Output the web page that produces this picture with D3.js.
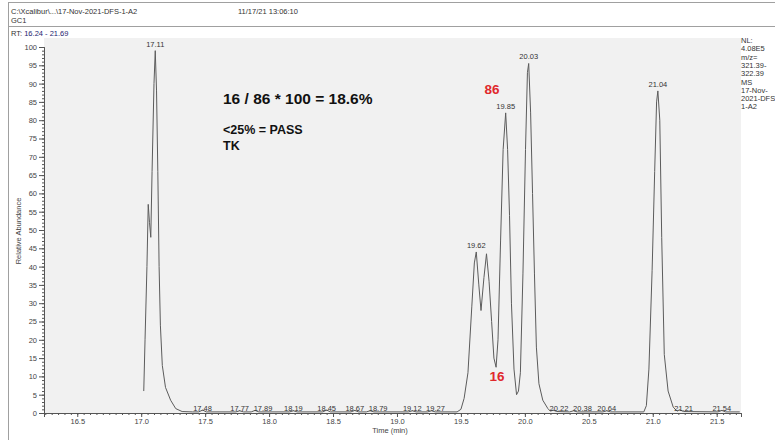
<!DOCTYPE html>
<html>
<head>
<meta charset="utf-8">
<script src="https://cdn.jsdelivr.net/npm/d3@7/dist/d3.min.js"></script>
<style>
    body { margin: 0; background: #ffffff; }
    text { font-family: "Liberation Sans", Arial, sans-serif; }
</style>
</head>
<body>
<div id="canvas"></div>
<script>
// Tiempos de retencion (min) del cromatograma
const rtTimes = [
    17.02, 17.03, 17.045, 17.055, 17.065, 17.075, 17.085, 17.10, 17.11, 17.12,
    17.13, 17.14, 17.15, 17.165, 17.19, 17.23, 17.27, 17.32, 17.40,
    17.45, 17.48, 17.51, 17.74, 17.77, 17.80, 17.86, 17.89, 17.92,
    18.16, 18.19, 18.22, 18.42, 18.45, 18.48, 18.64, 18.67, 18.70,
    18.76, 18.79, 18.82, 19.09, 19.12, 19.15, 19.24, 19.27, 19.30,
    19.47, 19.50, 19.525, 19.555, 19.585, 19.605, 19.62, 19.64, 19.657, 19.68,
    19.70, 19.72, 19.74, 19.758, 19.775, 19.79, 19.81, 19.83, 19.85, 19.865,
    19.88, 19.895, 19.915, 19.935, 19.95, 19.965, 19.985, 20.005, 20.02, 20.03,
    20.045, 20.06, 20.075, 20.09, 20.11, 20.14, 20.18, 20.20, 20.22, 20.25,
    20.35, 20.38, 20.41, 20.61, 20.64, 20.67, 20.93, 20.95, 20.97, 20.995,
    21.015, 21.03, 21.04, 21.055, 21.07, 21.09, 21.12, 21.16, 21.19, 21.21,
    21.24, 21.51, 21.54, 21.57, 21.68
];

// Abundancia relativa (%) para cada tiempo
const abundance = [
    6, 20, 40, 57, 52, 48, 66, 90, 99, 88,
    66, 40, 24, 13, 7, 3.5, 1.2, 0.4, 0.3,
    0.3, 0.8, 0.3, 0.3, 0.6, 0.3, 0.3, 0.7, 0.3,
    0.3, 0.6, 0.3, 0.3, 0.8, 0.3, 0.3, 0.7, 0.3,
    0.3, 0.6, 0.3, 0.3, 0.6, 0.3, 0.3, 0.6, 0.3,
    0.3, 1, 4, 11, 29, 41, 44, 35, 28, 37,
    43.5, 36, 25, 15, 12.5, 20, 47, 72, 82, 72,
    54, 30, 12, 5, 6, 11, 38, 72, 93, 95.5,
    82, 60, 38, 18, 8, 3.5, 1.2, 0.5, 0.8, 0.4,
    0.3, 0.6, 0.3, 0.3, 0.6, 0.3, 0.3, 2, 12, 39,
    66, 85, 88, 80, 48, 16, 6, 1.6, 0.5, 0.9,
    0.4, 0.3, 0.7, 0.3, 0.3
];

// Picos etiquetados con su tiempo de retencion
const peakLabels = [
    "17.11", "17.48", "17.77", "17.89", "18.19", "18.45", "18.67", "18.79",
    "19.12", "19.27", "19.62", "19.85", "20.03", "20.22", "20.38", "20.64",
    "21.04", "21.21", "21.54"
];

// Texto del encabezado y de la leyenda derecha
const legendLines = ["NL:", "4.08E5", "m/z=", "321.39-", "322.39", "MS", "17-Nov-", "2021-DFS", "1-A2"];
const xTicks = [16.5, 17.0, 17.5, 18.0, 18.5, 19.0, 19.5, 20.0, 20.5, 21.0, 21.5];
const yTicks = d3.range(0, 101, 5);

// Caracteristicas del canvas
const width = 775;
const height = 440;
const plot = {left: 44, right: 741, top: 38, bottom: 413};

const svg = d3.select("#canvas").append("svg")
    .attr("width", width)
    .attr("height", height);

// Escalas
const x = d3.scaleLinear()
    .domain([16.24, 21.69])
    .range([plot.left, plot.right]);

const y = d3.scaleLinear()
    .domain([0, 100])
    .range([plot.bottom, 47]);

// Marco del encabezado
svg.append("rect")
    .attr("x", 8.5).attr("y", 2.5)
    .attr("width", width).attr("height", height)
    .attr("fill", "none")
    .attr("stroke", "#a0a0a0");

svg.append("line")
    .attr("x1", 8.5).attr("x2", width)
    .attr("y1", 26.5).attr("y2", 26.5)
    .attr("stroke", "#a0a0a0");

svg.append("text")
    .attr("x", 11).attr("y", 14)
    .style("font-size", "7.5px")
    .attr("fill", "#333")
    .text("C:\\Xcalibur\\...\\17-Nov-2021-DFS-1-A2");

svg.append("text")
    .attr("x", 238).attr("y", 14)
    .style("font-size", "7.5px")
    .attr("fill", "#333")
    .text("11/17/21 13:06:10");

svg.append("text")
    .attr("x", 11).attr("y", 23)
    .style("font-size", "7.5px")
    .attr("fill", "#333")
    .text("GC1");

const rt = svg.append("text")
    .attr("x", 11).attr("y", 36)
    .style("font-size", "7.5px")
    .attr("fill", "#333");
rt.append("tspan").text("RT: ");
rt.append("tspan").attr("fill", "#1c1c70").text("16.24 - 21.69");

// Fondo del area de la grafica
svg.append("rect")
    .attr("x", plot.left).attr("y", plot.top)
    .attr("width", plot.right - plot.left)
    .attr("height", plot.bottom - plot.top)
    .attr("fill", "#f1f1f1");

// Ejes
const gx = svg.append("g")
    .attr("transform", `translate(0, ${plot.bottom})`);
gx.call(d3.axisBottom(x).tickValues(d3.range(16.25, 21.70, 0.05)).tickSize(2).tickFormat(""));
gx.append("g").call(d3.axisBottom(x).tickValues(xTicks).tickSize(4).tickPadding(2).tickFormat(d3.format(".1f")));

const gy = svg.append("g")
    .attr("transform", `translate(${plot.left}, 0)`);
gy.call(d3.axisLeft(y).tickValues(d3.range(0, 101, 1)).tickSize(2).tickFormat(""));
gy.append("g").call(d3.axisLeft(y).tickValues(yTicks).tickSize(5).tickPadding(2));

svg.selectAll(".domain").attr("stroke", "#555");
svg.selectAll(".tick line").attr("stroke", "#555");
svg.selectAll(".tick text")
    .attr("fill", "#444")
    .style("font-size", "7.5px")
    .style("font-family", "'Liberation Sans', Arial, sans-serif");

// Traza del cromatograma
const trace = rtTimes.map((t, i) => [t, abundance[i]]);
svg.append("path")
    .datum(trace)
    .attr("fill", "none")
    .attr("stroke", "#5c5c5c")
    .attr("stroke-width", 1)
    .attr("d", d3.line().x(d => x(d[0])).y(d => y(d[1])));

// Etiquetas de los picos (las de la linea base se desplazan para no chocar)
let prevRight = -Infinity;
peakLabels.forEach(label => {
    const t = +label;
    const idx = d3.leastIndex(rtTimes, v => Math.abs(v - t));
    const val = abundance[idx];
    const txt = svg.append("text")
        .attr("text-anchor", "middle")
        .style("font-size", "7.5px")
        .attr("fill", "#333")
        .text(label);
    const w = txt.node().getComputedTextLength();
    let cx = x(t);
    if (val < 2) {
        const hitsTrace = c => trace.some(d => d[1] >= 1 && Math.abs(x(d[0]) - c) < w / 2 + 1);
        while (cx - w / 2 < prevRight + 4 || hitsTrace(cx)) cx += 1;
        prevRight = cx + w / 2;
    }
    txt.attr("x", cx).attr("y", val < 2 ? 411 : y(val) - 4);
});

// Titulos de los ejes
svg.append("text")
    .attr("text-anchor", "middle")
    .style("font-size", "7.5px")
    .attr("fill", "#444")
    .attr("x", 390)
    .attr("y", 433)
    .text("Time (min)");

svg.append("text")
    .attr("text-anchor", "middle")
    .style("font-size", "7.5px")
    .attr("fill", "#444")
    .attr("transform", "translate(21, 231) rotate(-90)")
    .text("Relative Abundance");

// Leyenda de la derecha
legendLines.forEach((line, i) => {
    svg.append("text")
        .attr("x", 741)
        .attr("y", 43 + i * 8.3)
        .style("font-size", "7.5px")
        .attr("fill", "#333")
        .text(line);
});

// Anotaciones del analista
svg.append("text")
    .attr("x", 223).attr("y", 104)
    .style("font-size", "15.5px")
    .style("font-weight", "bold")
    .attr("fill", "#111")
    .text("16 / 86 * 100 = 18.6%");

svg.append("text")
    .attr("x", 223).attr("y", 133.5)
    .style("font-size", "12.5px")
    .style("font-weight", "bold")
    .attr("fill", "#111")
    .text("<25% = PASS");

svg.append("text")
    .attr("x", 223).attr("y", 149.5)
    .style("font-size", "12.5px")
    .style("font-weight", "bold")
    .attr("fill", "#111")
    .text("TK");

svg.append("text")
    .attr("x", 492).attr("y", 94)
    .attr("text-anchor", "middle")
    .style("font-size", "13.5px")
    .style("font-weight", "bold")
    .attr("fill", "#e0282c")
    .text("86");

svg.append("text")
    .attr("x", 497).attr("y", 381)
    .attr("text-anchor", "middle")
    .style("font-size", "13.5px")
    .style("font-weight", "bold")
    .attr("fill", "#e0282c")
    .text("16");
</script>
</body>
</html>
